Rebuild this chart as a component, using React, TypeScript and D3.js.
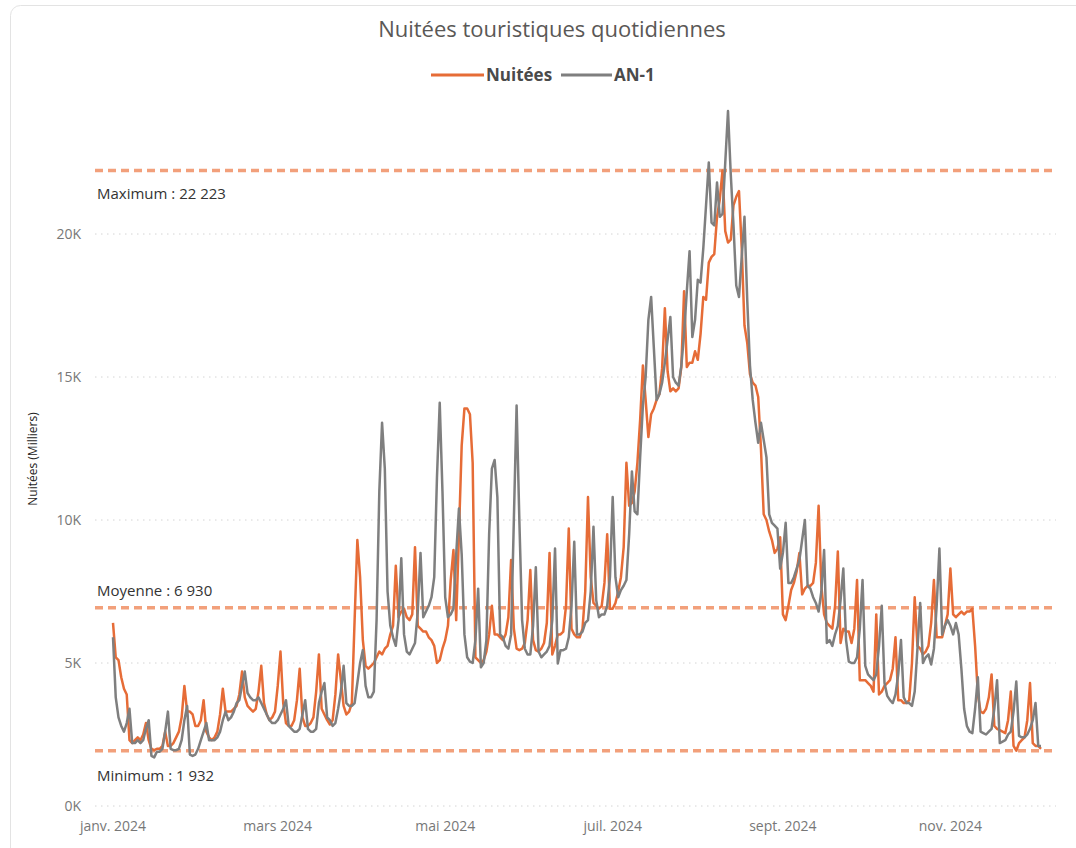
import React from 'react';
import * as d3 from 'd3';

// first day of the series, one value per day after it
const startDate = new Date(2024, 0, 1);

// Nuitées 2024 (one row = one week, Monday to Sunday)
const nuitees: number[] = [
  6400, 5200, 5100, 4500, 4100, 3900, 2300,
  2200, 2300, 2400, 2300, 2500, 2900, 2300,
  2000, 1950, 2000, 2000, 2100, 2600, 2100,
  2100, 2200, 2400, 2600, 3100, 4200, 3300,
  3300, 3200, 2800, 2800, 3000, 3700, 2600,
  2400, 2300, 2400, 2600, 3200, 4100, 3300,
  3300, 3300, 3400, 3500, 3900, 4700, 3800,
  3500, 3400, 3300, 3400, 4000, 4900, 3600,
  3200, 3000, 3100, 3300, 4200, 5400, 3600,
  2900, 2800, 2800, 3000, 3700, 4800, 3100,
  2800, 2800, 2900, 3100, 4000, 5300, 3400,
  3200, 3000, 2850, 3000, 3900, 5300, 4400,
  3500, 3200, 3300, 3600, 6500, 9300, 8000,
  5800, 4900, 4800, 4900, 5000, 5200, 5400,
  5300, 5500, 5600, 6000, 6300, 8400, 6600,
  6800, 6900, 6600, 6500, 6700, 9050, 6300,
  6200, 6100, 6100, 5900, 5800, 5600, 5000,
  5100, 5500, 5800, 6300, 7900, 8950, 6500,
  9500, 12600, 13900, 13900, 13700, 12000, 5200,
  5100, 5000, 5100, 5400, 6000, 7000, 6000,
  6000, 5900, 5800, 6000, 6600, 8600, 6200,
  5500, 5450, 5500, 5700, 6500, 8250, 5800,
  5450, 5400, 5500, 5700, 6400, 8850, 5300,
  5600, 6000, 6000, 6100, 7000, 9700, 6200,
  6000, 5900, 5900, 6200, 7500, 10800, 8000,
  7100, 7000, 6900, 7000, 7800, 9500, 6900,
  6900, 7100, 7500, 8000, 9050, 12000, 10500,
  10600, 11000, 12000, 13500, 15400, 14200, 12900,
  13700, 13900, 14200, 14400, 15300, 17400, 15200,
  14500, 14600, 14500, 14600, 15350, 18000, 15350,
  15500, 15500, 15900, 15600, 16500, 17800, 17700,
  19000, 19200, 19300, 20600, 21200, 22223, 20100,
  19700, 19800, 21000, 21300, 21500, 19500, 16800,
  16200, 15100, 14800, 14700, 14300, 12500, 10200,
  10000, 9600, 9300, 8850, 9000, 9400, 6700,
  6500, 7000, 7550, 7800, 8200, 8850, 7400,
  7600, 7700, 7700, 7800, 8500, 10500, 7700,
  6700, 6400, 6300, 6200, 7000, 8900, 5700,
  6200, 6100, 6100, 5700, 6200, 7900, 4400,
  4400, 4400, 4300, 4200, 4000, 6700, 3900,
  4000, 4200, 4300, 4400, 4800, 5900, 3700,
  3700, 3600, 3600, 3700, 5000, 7300, 5600,
  5500, 5300, 5400, 5600, 6400, 7900, 5900,
  5900, 5900, 6300, 6700, 8300, 6700, 6600,
  6700, 6800, 6700, 6800, 6800, 6900, 5600,
  3900, 3300, 3250, 3400, 3800, 4600, 2800,
  2700, 2650, 2600, 2550, 3000, 4000, 2100,
  1932, 2200, 2300, 2400, 3000, 4300, 2200,
  2100, 2100, 2000,
];

// AN-1, same calendar dates one year earlier
const an1: number[] = [
  5900, 3800, 3100, 2800, 2600, 2900, 3400,
  2200, 2200, 2300, 2200, 2300, 2700, 3000,
  1750, 1700, 1900, 1900, 2000, 2600, 3300,
  2000, 1950, 1950, 2000, 2300, 3000, 3500,
  1800, 1750, 1800, 2000, 2300, 2600, 2900,
  2300, 2300, 2300, 2400, 2600, 3000, 3300,
  3000, 3100, 3300, 3600, 3700, 4200, 4700,
  3950, 3800, 3700, 3700, 3800, 3600, 3400,
  3200, 3000, 2900, 2900, 3000, 3200, 3400,
  3700, 2800, 2700, 2600, 2600, 2700, 3200,
  3700, 2700, 2600, 2600, 2700, 3600, 4000,
  4300, 3100, 3000, 2800, 2900, 3400, 4000,
  4900, 3600, 3500, 3500, 3600, 4300, 5000,
  5450, 4200, 3800, 3800, 4000, 6500, 11000,
  13400, 11800, 7500, 6300, 5900, 5600, 6500,
  8660, 6000, 5400, 5300, 5500, 5700, 6800,
  8850, 6600, 6800, 7000, 7300, 8000, 11500,
  14100, 11000, 7300, 6600, 6700, 6900, 8800,
  10400, 8800, 6000, 5200, 5050, 5000, 5800,
  7600, 4850, 5000, 5800, 9500, 11800, 12100,
  10800, 6000, 5900, 5600, 5500, 6000, 10000,
  14000, 10000, 6500, 5500, 5300, 5300, 6300,
  8350, 5400, 5200, 5300, 5400, 5600, 6500,
  9000, 4980, 5450, 5450, 5500, 5900, 7000,
  9240, 6000, 6000, 6100, 6400, 6500, 7500,
  9760, 7200, 6600, 6700, 6700, 7000, 8000,
  10800, 8000, 7300, 7550, 7700, 7900, 9500,
  11700, 10300, 10200, 12200, 14000, 15000, 17000,
  17800, 16000, 14200, 14400, 14800, 15500, 16300,
  17100, 15000, 14800, 14700, 15400, 16500, 18000,
  19400, 16400, 17000, 18400, 18300, 19500, 21000,
  22500, 20400, 20300, 21800, 20600, 20700, 22500,
  24300, 22100, 20300, 18200, 17800, 19200, 20600,
  17700, 15400, 14200, 13400, 12700, 13400, 12800,
  12200, 10200, 9900, 9800, 9700, 8300, 8850,
  9900, 7800, 7800, 8000, 8300, 8600, 9300,
  10000, 7700, 7600, 7300, 7100, 6800, 7500,
  8950, 5700, 5800, 5600, 6000, 6300, 7200,
  8300, 5800, 5050, 5000, 5000, 5200, 6200,
  7900, 4900, 4600, 4500, 4400, 4600, 5600,
  7000, 4300, 3850, 3700, 3600, 3900, 4600,
  5800, 3800, 3600, 3600, 3500, 4000, 5500,
  7100, 5000, 5200, 5300, 4950, 5500, 7000,
  9000, 6000, 6300, 6500, 6300, 6000, 6400,
  6000, 4800, 3400, 2800, 2600, 2550, 3400,
  4500, 2600, 2550, 2500, 2600, 2700, 3400,
  4400, 2200, 2250, 2300, 2500, 2600, 3300,
  4350, 2450, 2400, 2400, 2500, 2700, 3000,
  3600, 2100, 2100,
];

const seriesNames = ['Nuitées', 'AN-1'];

const yTicks = [0, 5000, 10000, 15000, 20000];

const monthTicks = [
  new Date(2024, 0, 1), new Date(2024, 2, 1), new Date(2024, 4, 1),
  new Date(2024, 6, 1), new Date(2024, 8, 1), new Date(2024, 10, 1),
];
const monthLabels = ['janv. 2024', 'mars 2024', 'mai 2024', 'juil. 2024', 'sept. 2024', 'nov. 2024'];

const refNames = ['Maximum', 'Moyenne', 'Minimum'];
const refValues = [22223, 6930, 1932];

export default class App extends React.Component {
  svgRef = React.createRef<SVGSVGElement>();

  sizing = {
    width: 1076,
    height: 848,
    plotLeft: 113,
    plotRight: 1041,
    plotTop: 91,
    plotBottom: 806,
    gridLeft: 95,
    gridRight: 1056,
  };

  colors = {
    nuitees: '#E66C37',
    an1: '#7F7F7F',
    ref: '#F2A07B',
    grid: '#D4D4D4',
    tick: '#777777',
    text: '#333333',
    title: '#5A5856',
  };

  font = "'Segoe UI', 'Open Sans', sans-serif";

  setupDom(): void {
    const {sizing, colors, font} = this;
    const svg = d3.select(this.svgRef.current);
    svg.selectAll('*').remove();

    const dates = nuitees.map((_, i) => d3.timeDay.offset(startDate, i));
    const fr = d3.formatLocale({decimal: ',', thousands: ' ', grouping: [3], currency: ['', ' €']}).format(',d');

    const xScale = d3.scaleTime()
      .domain([dates[0], dates[dates.length - 1]])
      .range([sizing.plotLeft, sizing.plotRight]);

    const yScale = d3.scaleLinear()
      .domain([0, 25000])
      .range([sizing.plotBottom, sizing.plotTop]);

    // card
    svg.append('rect')
      .attr('x', 10.5)
      .attr('y', 5.5)
      .attr('width', 1090)
      .attr('height', 870)
      .attr('rx', 10)
      .attr('fill', '#ffffff')
      .attr('stroke', '#E3E3E3');

    svg.append('text')
      .attr('x', 552)
      .attr('y', 37)
      .attr('text-anchor', 'middle')
      .attr('font-family', font)
      .attr('font-size', '22px')
      .attr('fill', colors.title)
      .text('Nuitées touristiques quotidiennes');

    // legend
    const legendItems = [
      {name: seriesNames[0], color: colors.nuitees, x1: 431, x2: 484},
      {name: seriesNames[1], color: colors.an1, x1: 561, x2: 612},
    ];
    legendItems.forEach(item => {
      svg.append('line')
        .attr('x1', item.x1)
        .attr('x2', item.x2)
        .attr('y1', 75)
        .attr('y2', 75)
        .attr('stroke', item.color)
        .attr('stroke-width', 3);
      svg.append('text')
        .attr('x', item.x2 + 2)
        .attr('y', 81)
        .attr('font-family', font)
        .attr('font-size', '17px')
        .attr('font-weight', 'bold')
        .attr('fill', '#4A4A4A')
        .text(item.name);
    });

    // grid + y ticks
    const grid = svg.append('g');
    yTicks.forEach(t => {
      grid.append('line')
        .attr('x1', sizing.gridLeft)
        .attr('x2', sizing.gridRight)
        .attr('y1', yScale(t))
        .attr('y2', yScale(t))
        .attr('stroke', colors.grid)
        .attr('stroke-width', 1)
        .attr('stroke-dasharray', '1.5 4.5');
      grid.append('text')
        .attr('x', 81)
        .attr('y', yScale(t) + 5)
        .attr('text-anchor', 'end')
        .attr('font-family', font)
        .attr('font-size', '14px')
        .attr('fill', colors.tick)
        .text(`${t / 1000}K`);
    });

    svg.append('text')
      .attr('transform', `translate(37, 459) rotate(-90)`)
      .attr('text-anchor', 'middle')
      .attr('font-family', font)
      .attr('font-size', '12px')
      .attr('fill', '#252423')
      .text('Nuitées (Milliers)');

    monthTicks.forEach((m, i) => {
      svg.append('text')
        .attr('x', xScale(m))
        .attr('y', 831)
        .attr('text-anchor', 'middle')
        .attr('font-family', font)
        .attr('font-size', '14px')
        .attr('fill', colors.tick)
        .text(monthLabels[i]);
    });

    // reference lines (max / mean / min)
    const labelOffsets = [29, -12, 30];
    refValues.forEach((v, i) => {
      svg.append('line')
        .attr('x1', sizing.gridLeft)
        .attr('x2', sizing.gridRight)
        .attr('y1', yScale(v))
        .attr('y2', yScale(v))
        .attr('stroke', colors.ref)
        .attr('stroke-width', 3.5)
        .attr('stroke-dasharray', '8 5');
      svg.append('text')
        .attr('x', 97)
        .attr('y', yScale(v) + labelOffsets[i])
        .attr('font-family', font)
        .attr('font-size', '15px')
        .attr('fill', colors.text)
        .text(`${refNames[i]} : ${fr(v)}`);
    });

    const line = d3.line<number>()
      .x((_, i) => xScale(dates[i]))
      .y(d => yScale(d));

    svg.append('path')
      .datum(nuitees)
      .attr('fill', 'none')
      .attr('stroke', colors.nuitees)
      .attr('stroke-width', 2.5)
      .attr('stroke-linejoin', 'round')
      .attr('d', line);

    svg.append('path')
      .datum(an1)
      .attr('fill', 'none')
      .attr('stroke', colors.an1)
      .attr('stroke-width', 2.5)
      .attr('stroke-linejoin', 'round')
      .attr('d', line);
  }

  componentDidMount(): void {
    this.setupDom();
  }

  render(): React.ReactNode {
    const {width, height} = this.sizing;
    return (
      <svg
        ref={this.svgRef}
        width={width}
        height={height}
        style={{position: 'absolute', left: 0, top: 0, background: '#ffffff'}}
      />
    );
  }
}
